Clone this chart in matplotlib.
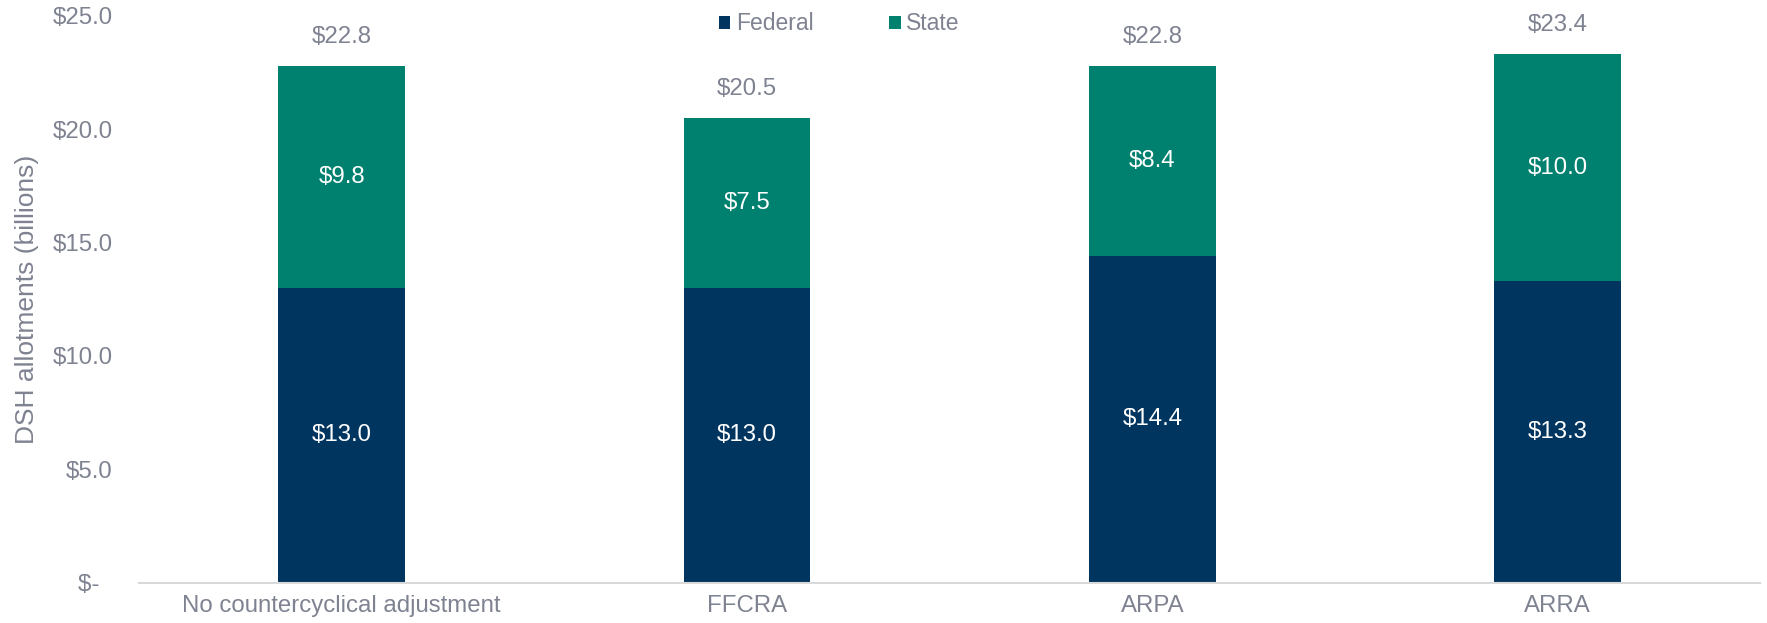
import numpy as np
import matplotlib as mpl
mpl.use('Agg')
import matplotlib.pyplot as plt

# DSH allotments, billions of dollars
categories = ["No countercyclical adjustment", "FFCRA", "ARPA", "ARRA"]
federal = [13.0, 13.0, 14.4, 13.3]
state = [9.8, 7.5, 8.4, 10.0]
totals = [22.8, 20.5, 22.8, 23.4]
yticks = [0, 5, 10, 15, 20, 25]
ytick_labels = ["$-  ", "$5.0", "$10.0", "$15.0", "$20.0", "$25.0"]

navy = "#003560"
teal = "#00806F"
gray = "#7F8391"
fs = 17.3

plt.rcParams['font.family'] = ['Liberation Sans', 'DejaVu Sans']

fig = plt.figure(figsize=(17.67, 6.23), dpi=100)
ax = fig.add_axes([0.0787, 0.0648, 0.9175, 0.9098])

x = np.arange(len(categories))
w = 0.313
b1 = ax.bar(x, federal, w, color=navy, label="Federal")
b2 = ax.bar(x, state, w, bottom=federal, color=teal, label="State")

for i in range(len(categories)):
    ax.text(x[i], federal[i] / 2, "$%.1f" % federal[i], ha="center", va="center",
            color="white", fontsize=fs)
    ax.text(x[i], federal[i] + state[i] / 2, "$%.1f" % state[i], ha="center", va="center",
            color="white", fontsize=fs)
    ax.annotate("$%.1f" % totals[i], (x[i], federal[i] + state[i]), xytext=(0, 21),
                textcoords="offset points", ha="center", va="center", color=gray, fontsize=fs)

ax.set_xlim(-0.5, len(categories) - 0.5)
ax.set_ylim(0, 25)
ax.set_xticks(x)
ax.set_xticklabels(categories, color=gray, fontsize=fs)
ax.set_yticks(yticks)
ax.set_yticklabels(ytick_labels, color=gray, fontsize=fs)
ax.tick_params(axis="both", length=0)
ax.tick_params(axis="y", pad=19)
ax.tick_params(axis="x", pad=9)
ax.set_ylabel("DSH allotments (billions)", color=gray, fontsize=19, labelpad=10)

for s in ["top", "right", "left"]:
    ax.spines[s].set_visible(False)
ax.spines["bottom"].set_color("#D9D9D9")
ax.spines["bottom"].set_linewidth(1.5)

fig.legend(handles=[b1, b2], loc="center", bbox_to_anchor=(0.475, 0.962), ncol=2,
           frameon=False, fontsize=16.5, labelcolor=gray, handlelength=0.5,
           handleheight=0.5, handletextpad=0.25, columnspacing=3.3)

fig.savefig("out.png", dpi=100)
